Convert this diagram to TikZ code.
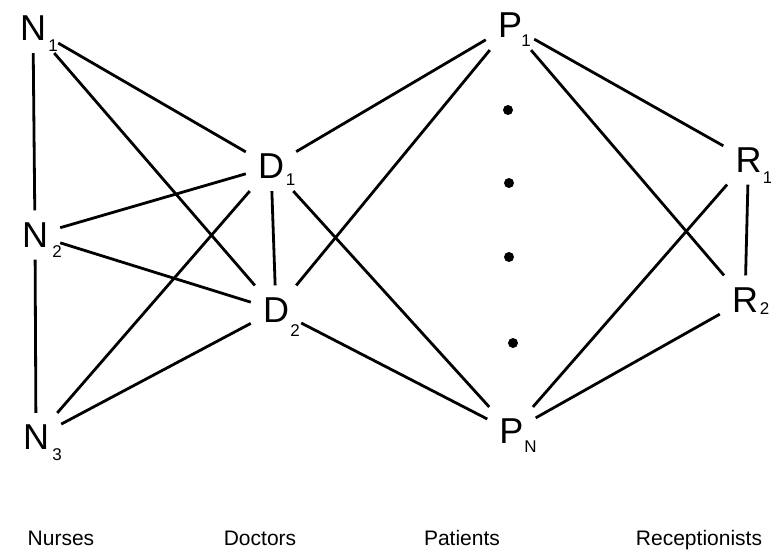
\documentclass[tikz,border=0pt]{standalone}
\usepackage{fontspec}
\setmainfont{Liberation Sans}

\begin{document}
\begin{tikzpicture}[x=1pt,y=-1pt,
		vert/.style={inner sep=12pt,font=\fontsize{36}{36}\selectfont},
		sublab/.style={anchor=center,inner sep=0pt,font=\fontsize{17}{17}\selectfont},
		grp/.style={anchor=base,font=\fontsize{21}{21}\selectfont},
		dot/.style={fill,circle,inner sep=0pt,minimum size=10pt},
		link/.style={line width=2.8pt}]
		\useasboundingbox (0,0) rectangle (771,551);
		% staff and patients
		\node[vert,label={[sublab,xshift=20pt,yshift=-17pt]center:1}] (n1) at (33,28.5) {N};
		\node[vert,label={[sublab,xshift=22pt,yshift=-16.5pt]center:2}] (n2) at (35,235) {N};
		\node[vert,label={[sublab,xshift=21pt,yshift=-17.5pt]center:3}] (n3) at (36,437.5) {N};
		\node[vert,label={[sublab,xshift=19.5pt,yshift=-13pt]center:1}] (d1) at (271,166.5) {D};
		\node[vert,label={[sublab,xshift=19pt,yshift=-21pt]center:2}] (d2) at (276,310) {D};
		\node[vert,label={[sublab,xshift=16pt,yshift=-15pt]center:1}] (p1) at (510,25.5) {P};
		\node[vert,label={[sublab,xshift=19pt,yshift=-15pt]center:N}] (pn) at (511.5,431.5) {P};
		\node[vert,label={[sublab,xshift=19pt,yshift=-18pt]center:1}] (r1) at (748.5,160) {R};
		\node[vert,label={[sublab,xshift=19.5pt,yshift=-9pt]center:2}] (r2) at (745,300) {R};
		% the patients in between
		\node[dot] (m1) at (508,110) {};
		\node[dot] (m2) at (509,183) {};
		\node[dot] (m3) at (509,257) {};
		\node[dot] (m4) at (513,343) {};
		% links
		\draw[link] (n1) -- (n2) -- (n3);
		\draw[link] (n1) -- (d1);
		\draw[link] (n1) -- (d2);
		\draw[link] (n2) -- (d1);
		\draw[link] (n2) -- (d2);
		\draw[link] (n3) -- (d1);
		\draw[link] (n3) -- (d2);
		\draw[link] (d1) -- (d2);
		\draw[link] (d1) -- (p1);
		\draw[link] (d1) -- (pn);
		\draw[link] (d2) -- (p1);
		\draw[link] (d2) -- (pn);
		\draw[link] (p1) -- (r1);
		\draw[link] (p1) -- (r2);
		\draw[link] (pn) -- (r1);
		\draw[link] (pn) -- (r2);
		\draw[link] (r1) -- (r2);
		% group names
		\node[grp] (gn) at (61,545) {Nurses};
		\node[grp] (gd) at (260,545) {Doctors};
		\node[grp] (gp) at (462,545) {Patients};
		\node[grp] (gr) at (699,545) {Receptionists};
	\end{tikzpicture}
\end{document}
